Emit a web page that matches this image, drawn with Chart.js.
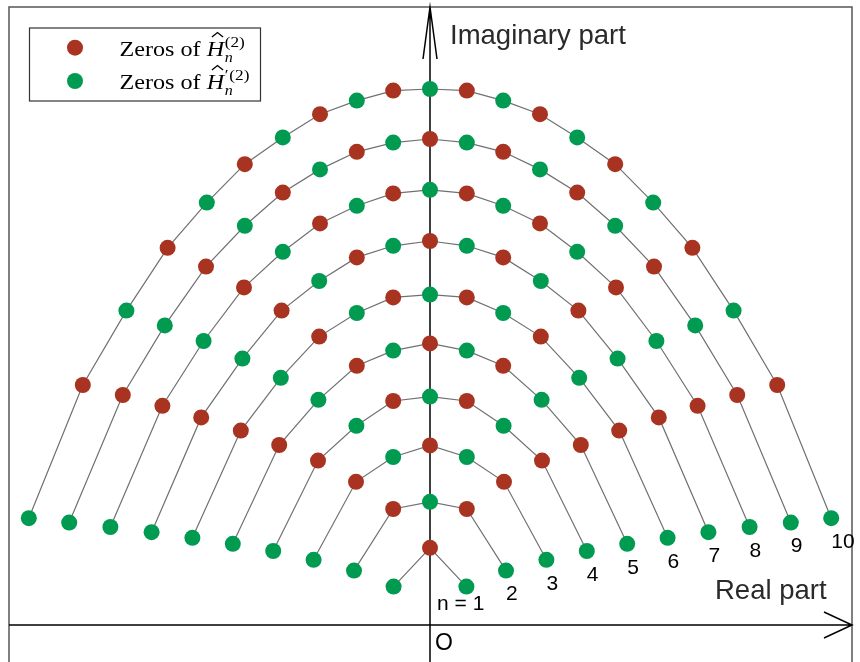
<!DOCTYPE html>
<html>
<head>
<meta charset="utf-8">
<script src="https://cdn.jsdelivr.net/npm/chart.js@4.4.1/dist/chart.umd.min.js"></script>
<style>
  html, body { margin: 0; padding: 0; background: #fff; overflow: hidden; }
  #wrap { position: relative; width: 860px; height: 662px; }
</style>
</head>
<body>
<div id="wrap"><canvas id="zerosChart"></canvas></div>
<script>
// real / imaginary parts of the zeros, one curve per order n (left to right)
const re1 = [-0.91, 0, 0.91];
const im1 = [0.96, 1.93, 0.96];
const re2 = [-1.9, -0.92, 0, 0.92, 1.9];
const im2 = [1.36, 2.9, 3.08, 2.9, 1.36];
const re3 = [-2.91, -1.85, -0.92, 0, 0.92, 1.85, 2.91];
const im3 = [1.63, 3.58, 4.2, 4.49, 4.2, 3.58, 1.63];
const re4 = [-3.92, -2.8, -1.84, -0.92, 0, 0.92, 1.84, 2.8, 3.92];
const im4 = [1.85, 4.11, 4.98, 5.6, 5.71, 5.6, 4.98, 4.11, 1.85];
const re5 = [-4.93, -3.77, -2.79, -1.83, -0.92, 0, 0.92, 1.83, 2.79, 3.77, 4.93];
const im5 = [2.03, 4.5, 5.63, 6.48, 6.86, 7.04, 6.86, 6.48, 5.63, 4.5, 2.03];
const re6 = [-5.94, -4.73, -3.73, -2.77, -1.83, -0.92, 0, 0.92, 1.83, 2.77, 3.73, 4.73, 5.94];
const im6 = [2.18, 4.86, 6.18, 7.21, 7.8, 8.19, 8.26, 8.19, 7.8, 7.21, 6.18, 4.86, 2.18];
const re7 = [-6.96, -5.72, -4.69, -3.71, -2.77, -1.83, -0.92, 0, 0.92, 1.83, 2.77, 3.71, 4.69, 5.72, 6.96];
const im7 = [2.32, 5.19, 6.66, 7.86, 8.6, 9.19, 9.48, 9.6, 9.48, 9.19, 8.6, 7.86, 6.66, 5.19, 2.32];
const re8 = [-7.99, -6.69, -5.66, -4.65, -3.68, -2.75, -1.83, -0.92, 0, 0.92, 1.83, 2.75, 3.68, 4.65, 5.66, 6.69, 7.99];
const im8 = [2.45, 5.48, 7.1, 8.44, 9.33, 10.04, 10.48, 10.79, 10.88, 10.79, 10.48, 10.04, 9.33, 8.44, 7.1, 5.48, 2.45];
const re9 = [-9.02, -7.68, -6.63, -5.6, -4.63, -3.68, -2.75, -1.83, -0.92, 0, 0.92, 1.83, 2.75, 3.68, 4.63, 5.6, 6.63, 7.68, 9.02];
const im9 = [2.56, 5.75, 7.49, 8.96, 9.98, 10.81, 11.39, 11.83, 12.06, 12.15, 12.06, 11.83, 11.39, 10.81, 9.98, 8.96, 7.49, 5.75, 2.56];
const re10 = [-10.03, -8.68, -7.59, -6.56, -5.58, -4.63, -3.68, -2.75, -1.83, -0.92, 0, 0.92, 1.83, 2.75, 3.68, 4.63, 5.58, 6.56, 7.59, 8.68, 10.03];
const im10 = [2.67, 6.0, 7.86, 9.43, 10.56, 11.52, 12.19, 12.77, 13.11, 13.36, 13.4, 13.36, 13.11, 12.77, 12.19, 11.52, 10.56, 9.43, 7.86, 6.0, 2.67];

const curveLabels = ['n = 1', '2', '3', '4', '5', '6', '7', '8', '9', '10'];

const curvesRe = [re1, re2, re3, re4, re5, re6, re7, re8, re9, re10];
const curvesIm = [im1, im2, im3, im4, im5, im6, im7, im8, im9, im10];

const RED = '#A83320';
const GREEN = '#009B50';

// even positions on a curve are zeros of H', odd ones zeros of H
const redPts = [];
const greenPts = [];
curvesRe.forEach((re, k) => {
  re.forEach((x, i) => {
    (i % 2 ? redPts : greenPts).push({ x: x, y: curvesIm[k][i] });
  });
});

const lineSets = curvesRe.map((re, k) => ({
  type: 'scatter',
  data: re.map((x, i) => ({ x: x, y: curvesIm[k][i] })),
  showLine: true,
  borderColor: '#707070',
  borderWidth: 1.2,
  pointRadius: 0,
  tension: 0,
  order: 2
}));

function dotSet(pts, color) {
  return {
    type: 'scatter',
    data: pts,
    pointRadius: 8,
    pointHoverRadius: 8,
    pointBackgroundColor: color,
    pointBorderWidth: 0,
    showLine: false,
    order: 0
  };
}

// frame, axes with arrow heads, axis names and the n labels
const axesPlugin = {
  id: 'axesPlugin',
  beforeDatasetsDraw(chart) {
    const ctx = chart.ctx;
    const a = chart.chartArea;
    const xs = chart.scales.x;
    const ys = chart.scales.y;
    const x0 = xs.getPixelForValue(0);
    const y0 = ys.getPixelForValue(0);
    ctx.save();

    ctx.strokeStyle = '#555';
    ctx.lineWidth = 1.5;
    ctx.beginPath();
    ctx.moveTo(a.left, chart.height);
    ctx.lineTo(a.left, a.top);
    ctx.lineTo(a.right, a.top);
    ctx.lineTo(a.right, chart.height);
    ctx.stroke();

    ctx.strokeStyle = '#000';
    ctx.lineWidth = 1.5;
    ctx.beginPath();
    ctx.moveTo(a.left, y0);
    ctx.lineTo(a.right, y0);
    ctx.moveTo(a.right - 28, y0 - 13);
    ctx.lineTo(a.right, y0);
    ctx.lineTo(a.right - 28, y0 + 13);
    ctx.moveTo(x0, chart.height);
    ctx.lineTo(x0, a.top);
    ctx.moveTo(x0 - 7, a.top + 52);
    ctx.lineTo(x0, a.top);
    ctx.lineTo(x0 + 7, a.top + 52);
    ctx.stroke();

    ctx.fillStyle = '#2a2a2a';
    ctx.textBaseline = 'alphabetic';
    ctx.textAlign = 'left';
    ctx.font = '27.5px "Liberation Sans", Arial, sans-serif';
    ctx.fillText('Imaginary part', x0 + 20, a.top + 37);
    ctx.fillText('Real part', a.right - 137, y0 - 26);

    ctx.fillStyle = '#000';
    ctx.font = '23px "Liberation Sans", Arial, sans-serif';
    ctx.fillText('O', x0 + 5, y0 + 25);

    // label each curve under its last zero
    ctx.font = '21px "Liberation Sans", Arial, sans-serif';
    ctx.textBaseline = 'middle';
    curvesRe.forEach((re, k) => {
      const last = re.length - 1;
      const px = xs.getPixelForValue(re[last]);
      const py = ys.getPixelForValue(curvesIm[k][last]);
      if (k === 0) {
        ctx.textAlign = 'right';
        ctx.fillText(curveLabels[k], px + 18, py + 18);
      } else {
        ctx.textAlign = 'left';
        ctx.fillText(curveLabels[k], px, py + 24);
      }
    });
    ctx.restore();
  }
};

// boxed legend with the hatted H written out by hand
const legendPlugin = {
  id: 'legendPlugin',
  afterDraw(chart) {
    const ctx = chart.ctx;
    const serif = '"Liberation Serif", "Times New Roman", serif';
    ctx.save();
    ctx.fillStyle = '#fff';
    ctx.fillRect(29.5, 28, 231, 73);
    ctx.strokeStyle = '#333';
    ctx.lineWidth = 1.2;
    ctx.strokeRect(29.5, 28, 231, 73);

    const rows = [
      { color: RED, dotY: 47.7, base: 55.5, prime: false },
      { color: GREEN, dotY: 81, base: 88.5, prime: true }
    ];
    rows.forEach(r => {
      ctx.fillStyle = r.color;
      ctx.beginPath();
      ctx.arc(75, r.dotY, 8, 0, Math.PI * 2);
      ctx.fill();

      // the TeX text runs a bit wider than Times, so stretch it sideways
      ctx.save();
      ctx.translate(119.5, r.base);
      ctx.scale(1.15, 1);
      ctx.fillStyle = '#000';
      ctx.textAlign = 'left';
      ctx.textBaseline = 'alphabetic';
      ctx.font = '21px ' + serif;
      const head = 'Zeros of ';
      ctx.fillText(head, 0, 0);
      let x = ctx.measureText(head).width;
      ctx.font = 'italic 21px ' + serif;
      ctx.fillText('H', x, 0);
      const hw = ctx.measureText('H').width;
      ctx.strokeStyle = '#000';
      ctx.lineWidth = 1.1;
      ctx.beginPath();
      ctx.moveTo(x + hw * 0.3, -18.5);
      ctx.lineTo(x + hw * 0.62, -23);
      ctx.lineTo(x + hw * 0.94, -18.5);
      ctx.stroke();
      x += hw + 0.5;
      ctx.font = 'italic 14px ' + serif;
      ctx.fillText('n', x, 6.5);
      let sx = x;
      ctx.font = '15px ' + serif;
      if (r.prime) {
        ctx.fillText('\u2032', sx, -9);
        sx += 4;
      }
      ctx.fillText('(2)', sx, -9);
      ctx.restore();
    });
    ctx.restore();
  }
};

new Chart(document.getElementById('zerosChart'), {
  type: 'scatter',
  data: {
    datasets: [...lineSets, dotSet(redPts, RED), dotSet(greenPts, GREEN)]
  },
  options: {
    responsive: true,
    maintainAspectRatio: false,
    animation: false,
    devicePixelRatio: 1,
    // no extra room for the dot radius, the frame sits right at the padding
    layout: { autoPadding: false, padding: { left: 9, right: 8, top: 7, bottom: 0 } },
    scales: {
      x: { type: 'linear', min: -10.525, max: 10.55, display: false },
      y: { type: 'linear', min: -0.925, max: 15.45, display: false }
    },
    plugins: {
      legend: { display: false },
      tooltip: { enabled: false }
    }
  },
  plugins: [axesPlugin, legendPlugin]
});
</script>
</body>
</html>
